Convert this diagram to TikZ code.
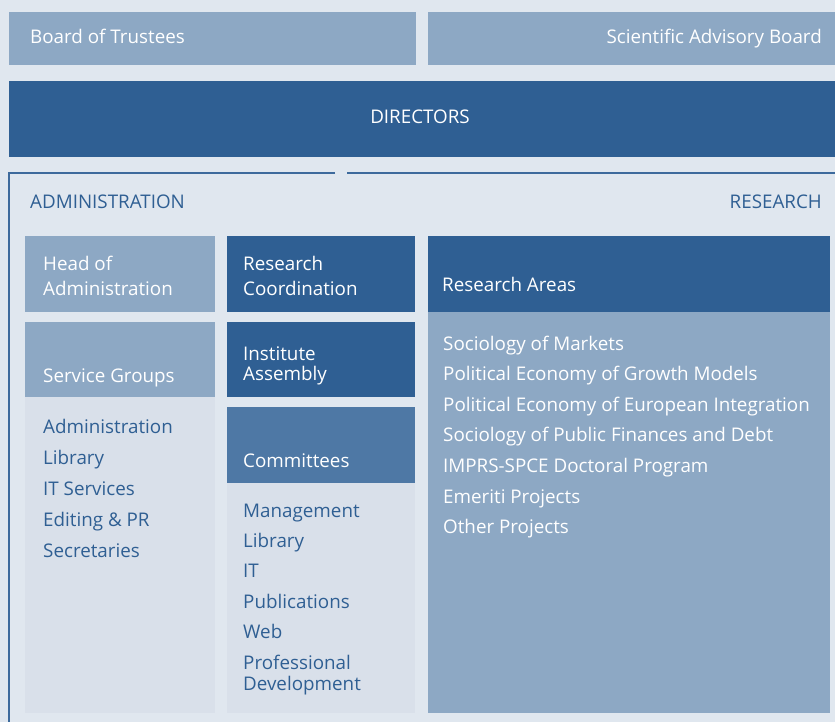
\documentclass[tikz,border=0pt]{standalone}
\usepackage{fontspec}
\setmainfont{Open Sans}
\definecolor{bgblue}{HTML}{E0E7EF}
\definecolor{lightbox}{HTML}{8DA8C4}
\definecolor{darkbox}{HTML}{2F5F93}
\definecolor{midbox}{HTML}{4E78A5}
\definecolor{panel}{HTML}{D9E0EA}
\definecolor{frameline}{HTML}{3D6A9C}
\begin{document}
\begin{tikzpicture}
	[x=1pt,y=-1pt,
	lbl/.style={anchor=base west,inner sep=0pt,text=white,font=\fontsize{18.8}{22}\selectfont},
	item/.style={lbl,text=darkbox}]
	\useasboundingbox[fill=bgblue] (0,0) rectangle (835,722);
	% top boards
	\fill[lightbox] (9,12) rectangle (416,65);
	\fill[lightbox] (428,12) rectangle (835,65);
	\fill[darkbox] (9,81) rectangle (835,157);
	% frame
	\draw[frameline,line width=1.6pt] (335,173) -- (9,173) -- (9,722);
	\draw[frameline,line width=1.6pt] (347,173) -- (835,173);
	% administration column
	\fill[lightbox] (25,236) rectangle (215,312);
	\fill[lightbox] (25,322) rectangle (215,397);
	\fill[panel] (25,397) rectangle (215,713);
	% middle column
	\fill[darkbox] (227,236) rectangle (415,312);
	\fill[darkbox] (227,322) rectangle (415,397);
	\fill[midbox] (227,407) rectangle (415,483);
	\fill[panel] (227,483) rectangle (415,713);
	% research column
	\fill[darkbox] (428,236) rectangle (830,312);
	\fill[lightbox] (428,312) rectangle (830,713);
	% text
	\node[lbl] (trustees) at (30,44) {Board of Trustees};
	\node[lbl,anchor=base east] (advisory) at (822,44) {Scientific Advisory Board};
	\node[lbl,anchor=base] (directors) at (420,124) {DIRECTORS};
	\node[item] (admin) at (30,208) {ADMINISTRATION};
	\node[item,anchor=base east] (research) at (822,208) {RESEARCH};
	\node[lbl] (headA) at (43,270) {Head of};
	\node[lbl] (headB) at (43,295) {Administration};
	\node[lbl] (service) at (43,382) {Service Groups};
	\node[lbl] (coordA) at (243,270) {Research};
	\node[lbl] (coordB) at (243,295) {Coordination};
	\node[lbl] (assemblyA) at (243,360) {Institute};
	\node[lbl] (assemblyB) at (243,380) {Assembly};
	\node[lbl] (committees) at (243,467) {Committees};
	\node[lbl] (areas) at (442,291) {Research Areas};
	% service groups
	\foreach \t [count=\i] in {Administration, Library, IT Services, Editing \& PR, Secretaries}
		\node[item] (svc\i) at (43, 433+31*\i-31) {\t};
	% committees
	\foreach \t [count=\i] in {Management, Library, IT, Publications, Web, Professional}
		\node[item] (com\i) at (243, 517+30.4*\i-30.4) {\t};
	\node[item] (com7) at (243,690) {Development};
	% research areas
	\foreach \t [count=\i] in {Sociology of Markets, Political Economy of Growth Models,
		Political Economy of European Integration, Sociology of Public Finances and Debt,
		IMPRS-SPCE Doctoral Program, Emeriti Projects, Other Projects}
		\node[lbl] (area\i) at (443, 350+30.6*\i-30.6) {\t};
\end{tikzpicture}
\end{document}
